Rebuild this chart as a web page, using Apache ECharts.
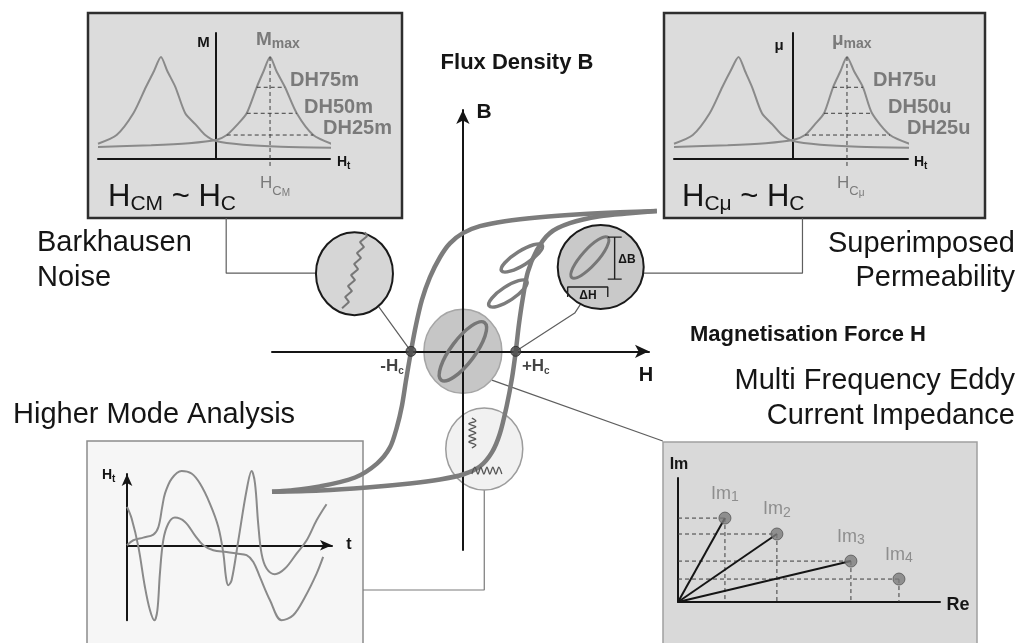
<!DOCTYPE html>
<html>
<head>
<meta charset="utf-8">
<title>Magnetic hysteresis – micromagnetic parameters</title>
<script src="https://cdn.jsdelivr.net/npm/echarts@6/dist/echarts.min.js"></script>
<style>
  html, body { margin: 0; padding: 0; background: #ffffff; }
  #chart { width: 1022px; height: 643px; }
</style>
</head>
<body>
<div id="chart"></div>
<script>
// ---------------------------------------------------------------------------
// Data
// ---------------------------------------------------------------------------

// Major hysteresis loop, normalised H (x) and B (y)
const descendingBranch = [
  [1.016, 0.565], [0.822, 0.560], [0.613, 0.552], [0.403, 0.540], [0.220, 0.524],
  [0.089, 0.504], [0, 0.476], [-0.068, 0.435], [-0.120, 0.379], [-0.173, 0.298],
  [-0.215, 0.206], [-0.246, 0.105], [-0.272, 0], [-0.298, -0.117], [-0.319, -0.218],
  [-0.346, -0.306], [-0.382, -0.387], [-0.450, -0.452], [-0.565, -0.508],
  [-0.749, -0.544], [-0.906, -0.560], [-1.0, -0.565]
];
const ascendingBranch = [
  [-1.0, -0.565], [-0.749, -0.560], [-0.503, -0.548], [-0.277, -0.532], [-0.120, -0.516],
  [0, -0.496], [0.089, -0.464], [0.152, -0.407], [0.194, -0.331], [0.230, -0.218],
  [0.257, -0.109], [0.277, 0], [0.293, 0.105], [0.314, 0.214], [0.340, 0.319],
  [0.387, 0.407], [0.455, 0.476], [0.560, 0.516], [0.717, 0.544], [0.874, 0.556],
  [1.016, 0.565]
];
// Minor loops on the rising branch (centres)
const minorLoopCentres = [[0.309, 0.376], [0.236, 0.233]];
// Coercive field on both sides
const coerciveH = [-0.272, 0.277];
const coerciveNames = ['-H', '+H'];

// Magnifier lenses (centres in H/B units)
const lensBarkhausen = [-0.568, 0.313];
const lensPermeability = [0.722, 0.340];
const lensOrigin = [0, 0];
const lensHarmonics = [0.112, -0.393];
const permeabilityLoopCentre = [0.665, 0.378];

// Barkhausen jumps inside the left lens
const barkhausenSteps = [
  [-0.633, 0.174], [-0.597, 0.199], [-0.617, 0.219], [-0.581, 0.243], [-0.602, 0.263],
  [-0.565, 0.287], [-0.586, 0.307], [-0.549, 0.331], [-0.570, 0.352], [-0.534, 0.376],
  [-0.555, 0.396], [-0.518, 0.420], [-0.539, 0.440], [-0.502, 0.464], [-0.513, 0.480]
];
// Delta-B and delta-H brackets inside the permeability lens
const deltaBBracket = [[0.759, 0.460], [0.832, 0.460], [0.795, 0.460], [0.795, 0.291], [0.759, 0.291], [0.832, 0.291]];
const deltaHBracket = [[0.549, 0.219], [0.549, 0.259], [0.759, 0.259], [0.759, 0.219]];
// Harmonic squiggles in the lower lens
const harmonicVertical = [
  [0.047, -0.269], [0.068, -0.280], [0.031, -0.292], [0.068, -0.304], [0.031, -0.316],
  [0.068, -0.329], [0.031, -0.341], [0.068, -0.353], [0.031, -0.365], [0.068, -0.377], [0.047, -0.389]
];
const harmonicHorizontal = [
  [0.047, -0.494], [0.063, -0.466], [0.079, -0.494], [0.094, -0.466], [0.110, -0.494],
  [0.126, -0.466], [0.141, -0.494], [0.157, -0.466], [0.173, -0.494], [0.188, -0.466], [0.204, -0.494]
];

// Leader lines from lenses to panels (H/B units)
const leadBarkhausen = [[-1.240, 0.537], [-1.240, 0.315], [-0.568, 0.315], [-0.272, 0]];
const leadPermeability = [[1.779, 0.537], [1.779, 0.315], [0.722, 0.315], [0.586, 0.154], [0.277, 0]];
const leadEddy = [[0.152, -0.116], [1.047, -0.361]];
const leadHarmonics = [[0.112, -0.393], [0.112, -0.961], [-0.523, -0.961]];

// Magnetic Barkhausen noise amplitude M over tangential field Ht
const magRising = [
  [-2.185, 0.118], [-1.2, 0.135], [-0.5, 0.155], [0, 0.186], [0.2, 0.235], [0.4, 0.34],
  [0.568, 0.448], [0.753, 0.703], [0.88, 0.86], [1.0, 1.0], [1.12, 0.86], [1.278, 0.703],
  [1.494, 0.448], [1.80, 0.235], [2.15, 0.147]
];
const magFalling = [
  [-2.185, 0.150], [-1.84, 0.235], [-1.53, 0.448], [-1.30, 0.703], [-1.15, 0.86], [-1.02, 1.0],
  [-0.90, 0.86], [-0.75, 0.703], [-0.57, 0.448], [-0.38, 0.34], [-0.2, 0.235], [0, 0.176],
  [0.5, 0.14], [1.2, 0.12], [2.15, 0.11]
];
const magPeakH = 1.0;
const magLevels = [0.703, 0.448, 0.235];
const magLevelFrom = [0.753, 0.568, 0.198];
const magLevelTo = [1.278, 1.494, 1.80];

// Incremental permeability mu over tangential field Ht
const permRising = [
  [-2.185, 0.118], [-1.2, 0.135], [-0.5, 0.155], [0, 0.186], [0.22, 0.235], [0.4, 0.34],
  [0.569, 0.448], [0.734, 0.703], [0.87, 0.86], [0.99, 1.0], [1.12, 0.86], [1.284, 0.703],
  [1.45, 0.448], [1.78, 0.235], [2.15, 0.147]
];
const permFalling = [
  [-2.185, 0.150], [-1.84, 0.235], [-1.53, 0.448], [-1.30, 0.703], [-1.15, 0.86], [-1.0, 1.0],
  [-0.88, 0.86], [-0.75, 0.703], [-0.57, 0.448], [-0.38, 0.34], [-0.2, 0.235], [0, 0.176],
  [0.5, 0.14], [1.2, 0.12], [2.15, 0.11]
];
const permPeakH = 0.99;
const permLevels = [0.703, 0.448, 0.235];
const permLevelFrom = [0.734, 0.569, 0.22];
const permLevelTo = [1.284, 1.45, 1.78];

// Higher mode analysis: two tangential field signals Ht(t)
const modeSignalA = [
  [0, 0.511], [0.22, 0.356], [0.54, -0.022], [0.85, -0.556], [1.09, -0.867], [1.30, -1.0],
  [1.44, -0.867], [1.56, -0.378], [1.72, 0.067], [1.96, 0.289], [2.27, 0.369], [2.75, 0.311],
  [3.22, 0.133], [3.62, 0], [4.09, -0.067], [4.72, -0.089], [5.20, -0.111], [5.67, -0.133],
  [5.99, -0.222], [6.30, -0.422], [6.78, -0.733], [7.33, -1.0], [7.88, -0.933], [8.44, -0.689],
  [8.99, -0.378], [9.30, -0.156]
];
const modeSignalB = [
  [0, 0], [0.30, 0.067], [0.77, 0.102], [1.25, 0.142], [1.49, 0.244], [1.67, 0.511],
  [1.80, 0.689], [2.12, 0.889], [2.59, 0.991], [3.06, 0.956], [3.46, 0.822], [3.93, 0.556],
  [4.33, 0.244], [4.57, -0.111], [4.69, -0.422], [4.80, -0.533], [4.96, -0.467], [5.28, 0.067],
  [5.67, 0.733], [5.91, 0.991], [6.07, 0.822], [6.22, 0.289], [6.38, -0.111], [6.62, -0.311],
  [7.01, -0.387], [7.49, -0.311], [8.04, -0.111], [8.52, 0.067], [8.99, 0.333], [9.46, 0.547]
];

// Multi frequency eddy current impedance: real and imaginary parts
const frequencyIndex = ['1', '2', '3', '4'];
const reParts = [2.15, 4.53, 7.92, 10.12];
const imParts = [4.06, 3.29, 1.98, 1.11];

// ---------------------------------------------------------------------------
// Layout and helpers
// ---------------------------------------------------------------------------
const FONT = '"Liberation Sans", Arial, Helvetica, sans-serif';
const LOOP_GREY = '#7c7c7c';
const CURVE_GREY = '#8a8a8a';
const LABEL_GREY = '#7a7a7a';
const INK = '#151515';
const W = 1022, H = 643;

// Main B–H axes
const MAIN = { left: 272, top: 110, width: 377, height: 440, xMin: -1, xMax: 0.975, yMin: -0.8, yMax: 0.972 };
// A full-canvas plane sharing the H/B scale of the main axes, so the loop,
// lenses and leader lines can run past the ends of the drawn axes.
const pxPerH = MAIN.width / (MAIN.xMax - MAIN.xMin);
const pxPerB = MAIN.height / (MAIN.yMax - MAIN.yMin);
const zeroX = MAIN.left - MAIN.xMin * pxPerH;
const zeroY = MAIN.top + MAIN.yMax * pxPerB;
const PLANE = {
  xMin: -zeroX / pxPerH, xMax: (W - zeroX) / pxPerH,
  yMin: -(H - zeroY) / pxPerB, yMax: zeroY / pxPerB
};
const P = 5; // index of that plane's grid/axes

function valueAxis(gridIndex, min, max, arrow, arrowSize) {
  return {
    type: 'value', gridIndex, min, max, z: 4,
    axisTick: { show: false }, axisLabel: { show: false }, splitLine: { show: false },
    axisLine: {
      show: true, onZero: true,
      lineStyle: { color: INK, width: 2 },
      symbol: arrow ? ['none', 'arrow'] : ['none', 'none'],
      symbolSize: arrowSize || [10, 14]
    }
  };
}

function hiddenAxis(gridIndex, min, max) {
  return { type: 'value', gridIndex, min, max, show: false, splitLine: { show: false } };
}

function line(name, gridIndex, data, lineStyle, extra) {
  return Object.assign({
    name, type: 'line', xAxisIndex: gridIndex, yAxisIndex: gridIndex, data,
    symbol: 'none', showSymbol: false, silent: true, animation: false, z: 5,
    lineStyle
  }, extra || {});
}

function ellipse(name, centre, shape, style, z) {
  return {
    name, type: 'custom', coordinateSystem: 'cartesian2d', xAxisIndex: P, yAxisIndex: P,
    data: [centre], z, silent: true, animation: false, clip: false,
    renderItem(params, api) {
      const p = api.coord([api.value(0), api.value(1)]);
      return {
        type: 'ellipse', x: p[0], y: p[1],
        rotation: (shape.angle || 0) * Math.PI / 180,
        shape: { cx: 0, cy: 0, rx: shape.rx, ry: shape.ry },
        style: Object.assign({}, style)
      };
    }
  };
}

function text(str, x, y, size, opts) {
  opts = opts || {};
  const align = opts.align || 'left';
  const style = {
    text: str, fill: opts.color || INK,
    font: (opts.bold ? 'bold ' : '') + size + 'px ' + FONT,
    align, verticalAlign: 'middle', textAlign: align, textVerticalAlign: 'middle'
  };
  if (opts.rich) style.rich = opts.rich;
  return { type: 'text', x, y, z: 100, silent: true, style };
}

function tok(size, color, bold, lineHeight, vAlign) {
  const t = { fontSize: size, fontFamily: FONT, fontWeight: bold ? 'bold' : 'normal', fill: color, color, lineHeight };
  if (vAlign) t.verticalAlign = vAlign;
  return t;
}

const dashed = { color: '#3c3c3c', width: 1, type: [4, 3] };
const leader = { color: '#5e5e5e', width: 1.2 };

// Peak curves with dashed width levels for one of the top panels
function peakPanel(gridIndex, rising, falling, peakH, levels, from, to, key) {
  const out = [
    line(key + '-rising', gridIndex, rising, { color: CURVE_GREY, width: 2 }, { smooth: 0.25 }),
    line(key + '-falling', gridIndex, falling, { color: CURVE_GREY, width: 2 }, { smooth: 0.25 }),
    line(key + '-hc', gridIndex, [[peakH, 1.0], [peakH, -0.09]], dashed, { clip: false, z: 6 })
  ];
  levels.forEach((lv, i) => {
    out.push(line(key + '-level' + i, gridIndex, [[from[i], lv], [to[i], lv]], dashed, { z: 6 }));
  });
  return out;
}

// ---------------------------------------------------------------------------
// Series
// ---------------------------------------------------------------------------
const eddyPoints = reParts.map((re, i) => [re, imParts[i]]);

const series = [
  // leader lines
  line('lead-barkhausen', P, leadBarkhausen, leader, { z: 2 }),
  line('lead-permeability', P, leadPermeability, leader, { z: 2 }),
  line('lead-eddy', P, leadEddy, leader, { z: 2 }),
  line('lead-harmonics', P, leadHarmonics, { color: '#7a7a7a', width: 1.2 }, { z: 2 }),

  // lenses
  ellipse('lens-barkhausen', lensBarkhausen, { rx: 38.5, ry: 41.5 }, { fill: '#d6d6d6', stroke: '#1a1a1a', lineWidth: 2 }, 3),
  ellipse('lens-permeability', lensPermeability, { rx: 43, ry: 42 }, { fill: '#c9c9c9', stroke: '#1a1a1a', lineWidth: 2 }, 3),
  ellipse('lens-origin', lensOrigin, { rx: 39, ry: 42 }, { fill: '#c6c6c6', stroke: '#a6a6a6', lineWidth: 1.5 }, 3),
  ellipse('lens-harmonics', lensHarmonics, { rx: 38.5, ry: 41 }, { fill: '#f1f1f1', stroke: '#9c9c9c', lineWidth: 1.5 }, 3),

  // hysteresis loop
  line('descending', P, descendingBranch, { color: LOOP_GREY, width: 4.5 }, { smooth: 0.3 }),
  line('ascending', P, ascendingBranch, { color: LOOP_GREY, width: 4.5 }, { smooth: 0.3 }),
  ellipse('minor-loop-1', minorLoopCentres[0], { rx: 24, ry: 7, angle: 32 }, { fill: 'none', stroke: LOOP_GREY, lineWidth: 3.5 }, 5),
  ellipse('minor-loop-2', minorLoopCentres[1], { rx: 22.5, ry: 7, angle: 33 }, { fill: 'none', stroke: LOOP_GREY, lineWidth: 3.5 }, 5),

  // lens contents
  ellipse('origin-loop', lensOrigin, { rx: 36, ry: 12, angle: 53 }, { fill: 'none', stroke: '#777777', lineWidth: 3.5 }, 6),
  ellipse('permeability-loop', permeabilityLoopCentre, { rx: 27, ry: 8, angle: 48 }, { fill: 'none', stroke: '#777777', lineWidth: 3 }, 6),
  line('barkhausen-steps', P, barkhausenSteps, { color: '#777777', width: 2 }, { z: 6 }),
  line('delta-b', P, deltaBBracket, { color: '#222222', width: 1.4 }, { z: 6 }),
  line('delta-h', P, deltaHBracket, { color: '#222222', width: 1.4 }, { z: 6 }),
  line('harmonic-v', P, harmonicVertical, { color: '#555555', width: 1.3 }, { z: 6, smooth: 0.3 }),
  line('harmonic-h', P, harmonicHorizontal, { color: '#555555', width: 1.3 }, { z: 6, smooth: 0.3 }),

  // coercive field markers
  {
    name: 'coercive', type: 'scatter', xAxisIndex: P, yAxisIndex: P, z: 7, silent: true, animation: false,
    symbolSize: 10, itemStyle: { color: '#4a4a4a', borderColor: '#2a2a2a', borderWidth: 1 },
    data: coerciveH.map((h, i) => ({
      value: [h, 0],
      label: {
        show: true, position: 'inside', offset: [i === 0 ? -19 : 20, 15],
        formatter: '{a|' + coerciveNames[i] + '}{s|c}',
        rich: { a: tok(17, INK, true, 20), s: tok(10, INK, true, 8, 'bottom') }
      }
    }))
  }
];

series.push(...peakPanel(1, magRising, magFalling, magPeakH, magLevels, magLevelFrom, magLevelTo, 'mag'));
series.push(...peakPanel(2, permRising, permFalling, permPeakH, permLevels, permLevelFrom, permLevelTo, 'perm'));

series.push(
  line('mode-a', 3, modeSignalA, { color: CURVE_GREY, width: 2 }, { smooth: 0.35, clip: false }),
  line('mode-b', 3, modeSignalB, { color: CURVE_GREY, width: 2 }, { smooth: 0.35, clip: false })
);

eddyPoints.forEach((p, i) => {
  series.push(line('im-guide-' + i, 4, [[0, p[1]], p], dashed, { z: 5 }));
  series.push(line('re-guide-' + i, 4, [p, [p[0], 0]], dashed, { z: 5 }));
  if (i < 3) series.push(line('phasor-' + i, 4, [[0, 0], p], { color: INK, width: 2 }, { z: 6 }));
});
series.push({
  name: 'impedance', type: 'scatter', xAxisIndex: 4, yAxisIndex: 4, z: 7, silent: true, animation: false,
  symbolSize: 12, itemStyle: { color: '#7c7c7c', borderColor: '#555555', borderWidth: 1 },
  data: eddyPoints,
  label: {
    show: true, position: 'top', distance: 7,
    formatter: (p) => '{a|Im}{s|' + frequencyIndex[p.dataIndex] + '}',
    rich: { a: tok(18, LABEL_GREY, false, 22), s: tok(14, LABEL_GREY, false, 14, 'bottom') }
  }
});
series.push({
  name: 'real-parts', type: 'scatter', xAxisIndex: 4, yAxisIndex: 4, z: 7, silent: true, animation: false,
  symbolSize: 1, itemStyle: { opacity: 0 },
  data: reParts.map((re) => [re, 0]),
  label: {
    show: true, position: 'bottom', distance: 9,
    formatter: (p) => '{a|Re}{s|' + frequencyIndex[p.dataIndex] + '}',
    rich: { a: tok(18, LABEL_GREY, false, 22), s: tok(14, LABEL_GREY, false, 14, 'bottom') }
  }
});

// ---------------------------------------------------------------------------
// Panels and text
// ---------------------------------------------------------------------------
const grey = (size, bold, lh, va) => tok(size, LABEL_GREY, bold, lh, va);
const black = (size, bold, lh, va) => tok(size, INK, bold, lh, va);

const graphics = [
  // panels
  { type: 'rect', z: 0, silent: true, shape: { x: 88, y: 13, width: 314, height: 205 }, style: { fill: '#dcdcdc', stroke: '#2e2e2e', lineWidth: 2.5 } },
  { type: 'rect', z: 0, silent: true, shape: { x: 664, y: 13, width: 321, height: 205 }, style: { fill: '#dcdcdc', stroke: '#2e2e2e', lineWidth: 2.5 } },
  { type: 'rect', z: 0, silent: true, shape: { x: 87, y: 441, width: 276, height: 215 }, style: { fill: '#f6f6f6', stroke: '#8c8c8c', lineWidth: 1.5 } },
  { type: 'rect', z: 0, silent: true, shape: { x: 663, y: 442, width: 314, height: 215 }, style: { fill: '#d9d9d9', stroke: '#a0a0a0', lineWidth: 1.5 } },

  // main titles
  text('Flux Density B', 517, 63, 22, { bold: true, align: 'center' }),
  text('B', 484, 112, 21, { bold: true, align: 'center' }),
  text('Magnetisation Force H', 690, 335, 22, { bold: true }),
  text('H', 646, 375, 20, { bold: true, align: 'center' }),
  text('Barkhausen', 37, 243, 29),
  text('Noise', 37, 278, 29),
  text('Superimposed', 1015, 244, 29, { align: 'right' }),
  text('Permeability', 1015, 278, 29, { align: 'right' }),
  text('Multi Frequency Eddy', 1015, 381, 29, { align: 'right' }),
  text('Current Impedance', 1015, 416, 29, { align: 'right' }),
  text('Higher Mode Analysis', 13, 415, 29),

  // lens annotations
  text('\u0394B', 627, 260, 12, { bold: true, align: 'center' }),
  text('\u0394H', 588, 296, 12, { bold: true, align: 'center' }),

  // Barkhausen panel
  text('M', 203.5, 43, 15, { bold: true, align: 'center' }),
  text('{h|H}{t|t}', 337, 162, 14, { rich: { h: black(14, true, 18), t: black(10, true, 8, 'bottom') } }),
  text('{m|M}{s|max}', 256, 40, 19, { rich: { m: grey(19, true, 22), s: grey(14, true, 12, 'bottom') } }),
  text('DH75m', 290, 80, 20, { bold: true, color: LABEL_GREY }),
  text('DH50m', 304, 107, 20, { bold: true, color: LABEL_GREY }),
  text('DH25m', 323, 128, 20, { bold: true, color: LABEL_GREY }),
  text('{h|H}{c|C}{m|M}', 260, 183, 17, { rich: { h: grey(17, false, 30), c: grey(13, false, 12, 'bottom'), m: grey(10, false, 2, 'bottom') } }),
  text('{h|H}{s|CM}{h| ~ H}{s|C}', 108, 197, 31, { rich: { h: black(31, false, 36), s: black(21, false, 20, 'bottom') } }),

  // permeability panel
  text('\u03bc', 779, 46, 15, { bold: true, align: 'center' }),
  text('{h|H}{t|t}', 914, 162, 14, { rich: { h: black(14, true, 18), t: black(10, true, 8, 'bottom') } }),
  text('{m|\u03bc}{s|max}', 832, 40, 19, { rich: { m: grey(19, true, 22), s: grey(14, true, 12, 'bottom') } }),
  text('DH75u', 873, 80, 20, { bold: true, color: LABEL_GREY }),
  text('DH50u', 888, 107, 20, { bold: true, color: LABEL_GREY }),
  text('DH25u', 907, 128, 20, { bold: true, color: LABEL_GREY }),
  text('{h|H}{c|C}{m|\u03bc}', 837, 183, 17, { rich: { h: grey(17, false, 30), c: grey(13, false, 12, 'bottom'), m: grey(10, false, 2, 'bottom') } }),
  text('{h|H}{s|C\u03bc}{h| ~ H}{s|C}', 682, 197, 31, { rich: { h: black(31, false, 36), s: black(21, false, 20, 'bottom') } }),

  // higher mode panel
  text('{h|H}{t|t}', 102, 475, 14, { rich: { h: black(14, true, 18), t: black(10, true, 8, 'bottom') } }),
  text('t', 349, 545, 16, { bold: true, align: 'center' }),

  // eddy current panel
  text('Im', 679, 465, 16, { bold: true, align: 'center' }),
  text('Re', 958, 605, 18, { bold: true, align: 'center' })
];

const option = {
  backgroundColor: '#ffffff',
  animation: false,
  grid: [
    { left: MAIN.left, top: MAIN.top, width: MAIN.width, height: MAIN.height, outerBoundsMode: 'none' }, // B–H axes
    { left: 98, top: 33, width: 232, height: 126, outerBoundsMode: 'none' },     // Barkhausen panel
    { left: 674, top: 33, width: 234, height: 126, outerBoundsMode: 'none' },    // permeability panel
    { left: 127, top: 474, width: 205, height: 146.25, outerBoundsMode: 'none' }, // higher mode panel
    { left: 678, top: 478, width: 262, height: 124, outerBoundsMode: 'none' },    // eddy current panel
    { left: 0, top: 0, width: W, height: H, outerBoundsMode: 'none' }             // full-canvas H/B plane
  ],
  xAxis: [
    valueAxis(0, MAIN.xMin, MAIN.xMax, true, [10, 14]),
    valueAxis(1, -2.185, 2.11, false),
    valueAxis(2, -2.185, 2.11, false),
    valueAxis(3, 0, 9.72, true, [8, 12]),
    valueAxis(4, 0, 12, false),
    hiddenAxis(5, PLANE.xMin, PLANE.xMax)
  ],
  yAxis: [
    valueAxis(0, MAIN.yMin, MAIN.yMax, true, [10, 14]),
    valueAxis(1, 0, 1.235, false),
    valueAxis(2, 0, 1.235, false),
    valueAxis(3, -1.0, 0.95, true, [8, 12]),
    valueAxis(4, 0, 6, false),
    hiddenAxis(5, PLANE.yMin, PLANE.yMax)
  ],
  series,
  graphic: { elements: graphics }
};

const chart = echarts.init(document.getElementById('chart'), null, { renderer: 'canvas' });
chart.setOption(option);
</script>
</body>
</html>
